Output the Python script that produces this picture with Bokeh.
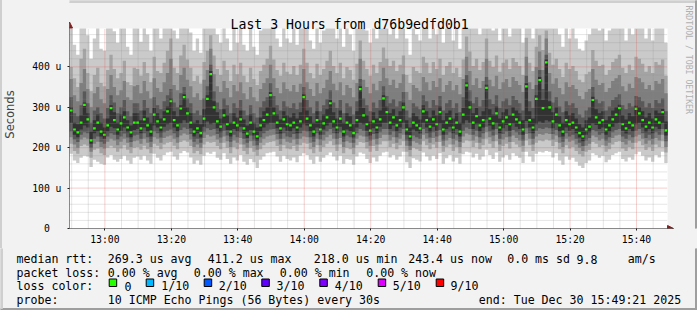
import numpy as np
from bokeh.plotting import figure
from bokeh.layouts import column, row
from bokeh.models import Range1d, FixedTicker, Arrow, NormalHead
from bokeh.core.properties import value
from bokeh.embed import file_html
from bokeh.resources import INLINE

# ---------------- data (microseconds), 180 one-minute bins from 12:49:21 ----------------
title_text = "Last 3 Hours from d76b9edfd0b1"
start_clock = (12, 49, 21)
bin_minutes = 1.0

median = [
    292,245,238,262,306,270,218,248,262,240,232,255,298,268,245,260,275,250,238,262,
    262,248,270,255,240,282,265,250,270,290,315,268,255,297,325,285,262,240,248,236,
    272,321,382,300,265,252,280,258,240,262,255,270,248,235,262,240,228,255,268,282,
    330,285,262,248,270,258,255,262,250,265,325,272,255,240,268,245,260,275,310,265,
    250,272,240,262,255,236,268,345,280,258,242,265,250,270,322,288,262,275,255,268,
    300,245,228,262,255,248,290,268,252,270,258,288,245,262,272,250,262,240,282,354,
    300,262,278,255,268,348,272,260,285,250,265,275,258,282,270,262,245,352,268,250,
    321,367,298,411,300,265,282,255,240,268,258,262,250,236,228,245,252,318,275,262,
    268,245,255,270,282,298,258,248,262,255,296,285,268,252,262,250,270,262,288,243,
]
ping1 = [
    185,168,162,175,180,178,152,170,165,160,158,176,182,170,165,172,180,168,160,175,
    178,170,180,168,160,185,175,168,182,188,190,178,170,186,192,188,176,160,168,158,
    180,188,185,190,175,170,186,172,160,176,168,182,165,158,172,164,150,170,178,186,
    188,190,178,165,180,172,168,176,164,180,186,182,170,160,178,165,175,182,188,178,
    168,180,160,172,170,158,178,188,185,172,162,176,166,180,188,190,176,182,170,178,
    190,164,150,174,170,166,188,178,168,180,172,186,160,174,182,166,175,160,184,190,
    188,176,185,170,178,195,182,172,188,165,176,182,170,186,180,175,162,190,178,165,
    185,190,188,192,190,176,186,168,158,178,170,175,165,155,150,162,168,186,182,175,
    180,164,170,182,186,190,172,166,176,170,184,190,180,168,176,165,182,176,190,162,
]
ping2 = [
    210,192,185,204,208,205,175,195,198,186,182,200,205,200,190,198,206,195,186,200,
    202,195,205,196,186,210,205,196,208,212,214,205,196,214,218,215,204,186,192,184,
    208,215,212,214,204,196,212,200,186,202,196,208,192,184,200,190,180,196,206,212,
    214,216,204,192,206,198,196,204,192,206,212,210,196,186,206,190,202,210,216,206,
    192,208,186,200,196,184,206,214,212,198,190,204,192,208,216,216,202,210,196,206,
    216,190,178,200,196,192,216,206,196,208,200,214,190,202,208,192,202,186,212,218,
    216,202,212,196,206,222,210,200,216,192,204,210,198,214,208,202,190,218,206,192,
    212,218,216,220,218,204,214,196,186,206,198,202,192,184,178,190,194,214,210,202,
    206,190,196,208,214,216,198,192,202,196,212,216,206,194,202,192,208,202,216,188,
]
ping3 = [
    226,208,200,220,225,222,190,210,215,202,198,215,222,218,206,215,222,212,202,216,
    218,210,222,212,202,226,222,212,224,228,230,222,212,230,235,232,220,202,208,200,
    224,232,228,230,220,212,228,216,202,218,212,224,208,200,216,205,195,212,222,228,
    230,232,220,208,222,215,212,220,208,222,228,226,212,202,222,206,218,226,232,222,
    208,224,202,216,212,200,222,230,228,214,205,220,208,224,232,232,218,226,212,222,
    232,205,194,216,212,208,232,222,212,224,215,230,205,218,224,208,218,202,228,235,
    232,218,228,212,222,238,226,216,232,208,220,226,214,230,224,218,205,234,222,208,
    228,234,232,236,234,220,230,212,202,222,215,218,208,200,192,205,210,230,226,218,
    222,205,212,224,230,232,214,208,218,212,228,232,222,210,218,208,224,218,232,202,
]
ping4 = [
    240,220,214,232,238,236,200,222,228,215,210,228,236,232,220,228,235,225,214,230,
    232,222,236,226,215,240,236,225,238,242,245,236,226,244,250,246,234,215,222,212,
    238,248,244,246,234,225,242,230,215,232,226,238,222,212,230,218,206,226,236,242,
    245,246,234,222,236,228,226,234,222,236,242,240,226,215,236,220,232,240,246,236,
    222,238,215,230,226,212,236,246,242,228,218,234,222,238,246,246,232,240,226,236,
    246,218,205,230,226,222,246,236,225,238,228,244,218,232,238,222,232,215,242,250,
    246,232,242,226,236,252,240,230,246,222,234,240,228,244,238,232,218,248,236,222,
    242,248,246,250,248,234,244,226,215,236,228,232,222,212,204,218,224,244,240,232,
    236,218,226,238,244,246,228,222,232,226,242,246,236,224,232,222,238,232,246,216,
]
ping5 = [
    262,232,226,245,255,250,210,236,240,228,222,240,252,248,232,242,250,238,226,244,
    246,236,250,240,228,255,250,238,252,258,262,250,240,260,268,262,248,228,236,225,
    252,265,258,262,248,238,258,244,228,246,240,252,236,224,244,230,218,240,250,258,
    262,262,248,235,250,242,240,248,236,250,258,255,240,228,250,232,245,255,262,250,
    236,252,228,245,240,225,250,262,258,242,230,248,236,252,262,262,246,255,240,250,
    262,232,218,245,240,235,262,250,238,252,242,260,232,246,252,236,246,228,258,268,
    262,246,258,240,250,270,255,245,262,236,248,256,242,260,252,246,232,266,250,236,
    258,265,262,268,265,248,260,240,228,250,242,246,236,225,216,232,238,260,256,246,
    250,232,240,252,260,262,242,235,246,240,258,262,250,238,246,236,252,246,262,230,
]
ping6 = [
    300,262,258,280,312,285,240,268,282,262,250,272,305,288,262,282,290,268,255,285,
    285,268,292,275,262,298,285,272,290,302,322,290,278,305,332,300,285,262,268,258,
    295,330,390,315,288,272,295,280,262,285,275,292,270,255,282,262,250,275,290,300,
    338,300,282,270,290,280,275,285,272,288,332,292,278,262,290,268,282,295,318,288,
    272,292,262,285,278,258,290,352,298,280,265,288,272,292,330,302,285,295,278,290,
    312,268,250,285,278,270,305,290,275,292,280,302,268,285,292,272,285,262,298,362,
    315,285,298,278,290,356,295,282,302,272,288,295,280,300,292,285,268,360,290,272,
    330,375,318,418,315,288,300,278,262,290,280,285,272,258,250,268,275,326,295,285,
    290,268,278,292,300,306,280,270,285,278,304,300,290,275,285,272,292,285,296,265,
]
ping7 = [
    325,285,278,305,340,310,262,292,300,285,272,298,330,312,285,300,318,290,278,310,
    310,292,318,298,285,325,305,295,315,330,345,312,300,335,350,322,310,285,292,280,
    322,352,405,340,312,295,322,305,285,310,298,318,292,280,305,285,275,300,315,325,
    360,328,305,292,315,302,298,310,295,312,350,318,300,285,315,290,305,320,342,312,
    298,318,285,310,302,282,315,370,322,305,290,312,298,318,352,328,310,320,302,315,
    338,292,275,310,302,295,330,315,298,318,305,328,292,310,318,298,310,288,325,380,
    342,310,325,302,318,375,320,308,330,298,315,322,305,328,318,310,292,378,315,298,
    355,392,345,430,340,312,325,302,288,315,305,310,298,282,275,292,300,350,320,310,
    315,292,302,318,325,332,305,295,310,302,328,325,315,300,310,298,318,310,322,290,
]
ping8 = [
    370,330,315,360,395,345,300,335,350,320,310,345,380,350,330,342,365,325,318,352,
    355,335,365,340,322,372,348,338,362,385,420,355,342,380,398,368,352,325,335,318,
    368,392,445,382,352,338,365,348,325,355,340,362,335,320,350,325,315,345,360,372,
    405,372,348,335,362,345,340,355,338,358,395,362,345,328,360,335,348,368,390,358,
    342,362,330,355,348,325,360,420,368,350,335,358,342,365,398,372,355,368,348,360,
    382,338,318,355,348,340,375,362,342,365,350,372,338,355,365,342,355,332,370,425,
    390,355,372,348,365,420,368,352,378,345,362,370,350,375,365,355,338,425,362,345,
    400,438,392,470,385,358,372,348,332,362,350,355,345,328,320,338,345,395,368,355,
    360,338,348,365,372,380,352,340,358,348,375,372,362,345,355,342,365,358,370,335,
]
ping9 = [
    400,372,350,420,445,385,340,380,398,360,352,392,430,395,372,385,415,362,355,398,
    395,378,412,385,362,425,390,385,410,440,470,398,385,428,455,418,398,365,378,358,
    412,440,478,428,395,380,415,392,365,405,382,410,378,362,398,370,355,390,405,420,
    452,418,392,378,410,388,382,402,380,405,445,410,385,372,408,380,395,415,440,402,
    385,410,372,400,392,368,408,465,415,395,378,405,385,412,448,420,402,415,390,405,
    428,380,360,400,390,385,425,410,385,412,395,420,380,402,412,385,398,375,418,475,
    438,402,420,392,412,470,415,400,428,388,410,418,395,422,412,402,380,472,410,390,
    450,478,442,490,435,405,420,395,375,410,395,402,390,368,362,382,388,442,415,402,
    405,380,392,412,420,430,398,385,405,392,425,420,408,388,402,385,412,405,418,378,
]
ping10 = [
    560,455,430,600,520,478,420,470,550,445,440,530,580,488,460,520,560,450,430,540,
    520,462,560,480,440,600,500,470,545,585,620,490,470,575,610,560,485,440,470,435,
    555,590,640,560,480,460,545,470,440,540,460,530,455,440,510,450,430,490,545,570,
    610,560,470,450,545,470,460,530,455,520,600,548,465,445,545,460,490,555,590,520,
    470,548,450,530,480,440,545,620,560,490,460,538,470,552,605,565,480,555,470,545,
    580,470,430,520,480,465,575,545,470,555,480,570,460,530,555,465,500,445,565,640,
    590,510,565,480,550,640,560,490,580,465,540,560,475,575,552,510,460,640,548,470,
    600,650,590,680,585,500,560,480,450,550,470,525,470,445,440,465,480,600,555,490,
    545,465,490,555,565,580,500,465,545,480,575,565,520,470,530,465,558,545,570,460,
]

x_tick_labels = ["13:00", "13:20", "13:40", "14:00", "14:20", "14:40", "15:00", "15:20", "15:40"]
y_tick_values = [0, 100, 200, 300, 400]
y_tick_labels = ["0\u00a0\u00a0\u200b", "100 u", "200 u", "300 u", "400 u"]

stats_row1 = ["median rtt:", "269.3 us avg", "411.2 us max", "218.0 us min", "243.4 us now", "0.0 ms sd", "9.8", "am/s"]
stats_row2 = ["packet loss:", "0.00 % avg", "0.00 % max", "0.00 % min", "0.00 % now"]
loss_labels = ["0", "1/10", "2/10", "3/10", "4/10", "5/10", "9/10"]
loss_colors = ["#26ff00", "#00b8ff", "#0059ff", "#5e00ff", "#7e00ff", "#dd00ff", "#ff0000"]
probe_row = ["probe:", "10 ICMP Echo Pings (56 Bytes) every 30s", "end: Tue Dec 30 15:49:21 2025"]
watermark = "RRDTOOL / TOBI OETIKER"
smoke_colors = ["#cacaca", "#a4a4a4", "#7e7e7e", "#585858", "#323232"]

# ---------------- layout constants (image pixels) ----------------
W, H = 697, 310
FL, FR, FT, FB = 67, 667, 28, 228          # plot area of the graph
MAIN_H = 248
XMAX, YMAX = 180.0, 495.0
PXX = XMAX / (FR - FL)                      # minutes per pixel
PXY = YMAX / (FB - FT)                      # microseconds per pixel
BG = "#f2f2f2"
MONO = "DejaVu Sans Mono"

def dx(px):
    return (px - FL) * PXX

def dy(py):
    return (FB - py) * PXY

p = figure(width=W, height=MAIN_H, output_backend="svg", toolbar_location=None,
           x_range=Range1d(0, dx(W)), y_range=Range1d(0, dy(0)),
           min_border_left=FL, min_border_right=0, min_border_top=0, min_border_bottom=MAIN_H - FB,
           background_fill_color=BG, border_fill_color=BG, border_fill_alpha=0.0,
           styles={"background-color": BG, "box-shadow": "inset 2px 0 0 0 #cfcfcf"})
p.outline_line_color = None
p.outline_line_alpha = 0
p.xgrid.visible = False
p.ygrid.visible = False

# white canvas of the graph
p.quad(left=[0], right=[XMAX], bottom=[0], top=[YMAX], fill_color="#ffffff", line_color=None)

# smoke (values above the graph's upper limit are cut at the limit, as rrdtool does)
n = len(median)
pings = np.sort(np.array([ping1, ping2, ping3, ping4, ping5, ping6, ping7, ping8, ping9, ping10], dtype=float), axis=0)
pings = np.minimum(pings, YMAX)
edges = np.arange(n + 1) * bin_minutes
for k, col in enumerate(smoke_colors):
    lo = np.append(pings[k], pings[k][-1])
    hi = np.append(pings[9 - k], pings[9 - k][-1])
    p.varea_step(x=edges, y1=lo, y2=hi, step_mode="after", fill_color=col)

centers = (np.arange(n) + 0.5) * bin_minutes
p.rect(x=centers, y=median, width=0.8 * bin_minutes, height=2.2, height_units="screen",
       fill_color="#26ff00", line_color=None)

# ticks
def clock_to_min(lbl):
    h, m = lbl.split(":")
    return int(h) * 60 + int(m) - (start_clock[0] * 60 + start_clock[1] + start_clock[2] / 60)

major_x = [clock_to_min(l) for l in x_tick_labels]
minor_x = [float(t) for t in np.arange(clock_to_min("12:50"), XMAX, 5.0) if min(abs(t - m) for m in major_x) > 0.1]
minor_y = [v for v in range(20, int(YMAX), 20) if v % 100 != 0]

# grid (drawn over the smoke, dotted)
p.segment(x0=minor_x, x1=minor_x, y0=[0] * len(minor_x), y1=[YMAX] * len(minor_x),
          line_color="#8f8f8f", line_alpha=0.45, line_width=1, line_dash="1 1")
p.segment(x0=[0] * len(minor_y), x1=[XMAX] * len(minor_y), y0=minor_y, y1=minor_y,
          line_color="#8f8f8f", line_alpha=0.45, line_width=1, line_dash="1 1")
p.segment(x0=major_x, x1=major_x, y0=[0] * len(major_x), y1=[YMAX] * len(major_x),
          line_color="#de4f4f", line_alpha=0.55, line_width=1, line_dash="1 1")
maj_y = y_tick_values[1:]
p.segment(x0=[0] * len(maj_y), x1=[XMAX] * len(maj_y), y0=maj_y, y1=maj_y,
          line_color="#de4f4f", line_alpha=0.55, line_width=1, line_dash="1 1")

# axes
p.xaxis.ticker = FixedTicker(ticks=major_x, minor_ticks=[])
p.xaxis.major_label_overrides = {t: l for t, l in zip(major_x, x_tick_labels)}
p.yaxis.ticker = FixedTicker(ticks=y_tick_values, minor_ticks=[])
p.yaxis.major_label_overrides = {v: l for v, l in zip(y_tick_values, y_tick_labels)}
p.xaxis.bounds = (0, XMAX)
p.yaxis.bounds = (0, YMAX)
for ax in (p.xaxis[0], p.yaxis[0]):
    ax.axis_line_color = None
    ax.major_tick_in = 0
    ax.major_tick_out = 2
    ax.minor_tick_in = 0
    ax.minor_tick_out = 0
    ax.major_tick_line_color = "#1f1f1f"
    ax.major_label_text_font = MONO
    ax.major_label_text_font_size = "9.75px"
    ax.major_label_text_color = "#000000"
p.xaxis.major_label_standoff = 3
p.yaxis.major_label_standoff = 6
p.yaxis.axis_label = "Seconds"
p.yaxis.axis_label_text_font = "DejaVu Sans"
p.yaxis.axis_label_text_font_size = "11.5px"
p.yaxis.axis_label_text_font_style = "normal"
p.yaxis.axis_label_standoff = 12

# axis lines with arrow heads
p.add_layout(Arrow(x_start=dx(62), y_start=0, x_end=dx(673), y_end=0, line_color="#1f1f1f", line_width=1,
                   end=NormalHead(size=6, fill_color="#801f1f", line_color="#801f1f")))
p.add_layout(Arrow(x_start=0, y_start=dy(229), x_end=0, y_end=dy(21.5), line_color="#1f1f1f", line_width=1,
                   end=NormalHead(size=6, fill_color="#801f1f", line_color="#801f1f")))

# title, watermark, borders
p.text(x=[dx(348)], y=[dy(24)], text=[title_text], text_font=value(MONO), text_font_size="13.2px",
       text_color="#000000", text_align="center", text_baseline="alphabetic")
p.text(x=[dx(688)], y=[dy(5)], text=[watermark], angle=-np.pi / 2,
       text_font=value(MONO), text_font_size="8.2px", text_color="#b0b0b0",
       text_align="left", text_baseline="middle")
p.quad(left=[dx(0), dx(W - 2)], right=[dx(W), dx(W)], bottom=[dy(2), dy(MAIN_H)], top=[dy(0), dy(0)],
       color=["#cfcfcf", "#9e9e9e"])

# ---------------- legend strip at the bottom ----------------
LEG_H = H - MAIN_H
lg = figure(width=W, height=LEG_H, output_backend="svg", toolbar_location=None,
            x_range=Range1d(0, W), y_range=Range1d(0, LEG_H),
            min_border=0, x_axis_location=None, y_axis_location=None,
            background_fill_color=BG, border_fill_color=BG,
            styles={"background-color": BG})
lg.outline_line_color = None
lg.outline_line_alpha = 0
lg.grid.visible = False

def ly(py):
    return H - py

# plain backdrop over the whole strip first
lg.quad(left=[-1], right=[W + 1], bottom=[-1], top=[LEG_H + 1], fill_color=BG, line_color=None)

row_y = [258.5, 272, 285.7, 299.3]
row1_x = [16, 107.3, 207.3, 313.3, 407.7, 506.7, 576, 627.3]
row2_x = [16, 107.3, 193.3, 279.3, 365.7]
box_x = [108.7, 145.7, 203.7, 261.3, 319.3, 377.7, 435.7]
text_x = [124, 160.7, 218.3, 276, 334.3, 392.3, 450]
probe_x = [16, 107.3, 478.3]

txt_x = row1_x + row2_x + [16] + text_x + probe_x
txt_y = ([ly(row_y[0])] * len(row1_x) + [ly(row_y[1])] * len(row2_x)
         + [ly(row_y[2])] * (1 + len(text_x)) + [ly(row_y[3])] * len(probe_x))
txt = stats_row1 + stats_row2 + ["loss color:"] + loss_labels + probe_row
lg.text(x=txt_x, y=txt_y, text=txt, text_font=value(MONO), text_font_size="11.6px",
        text_color="#000000", text_align="left", text_baseline="alphabetic")
lg.rect(x=[b + 3.75 for b in box_x], y=[ly(282.25)] * len(box_x), width=7.5, height=7.5,
        fill_color=loss_colors, line_color="#000000", line_width=1)
lg.quad(left=[0, W - 2, 0], right=[W, W, 2], bottom=[0, 0, 2], top=[2, LEG_H, LEG_H],
        color=["#9e9e9e", "#9e9e9e", "#cfcfcf"])

layout = column(row(p, spacing=0), row(lg, spacing=0), spacing=0,
                styles={"background-color": BG})
open("out.html", "w").write(file_html(layout, INLINE))
